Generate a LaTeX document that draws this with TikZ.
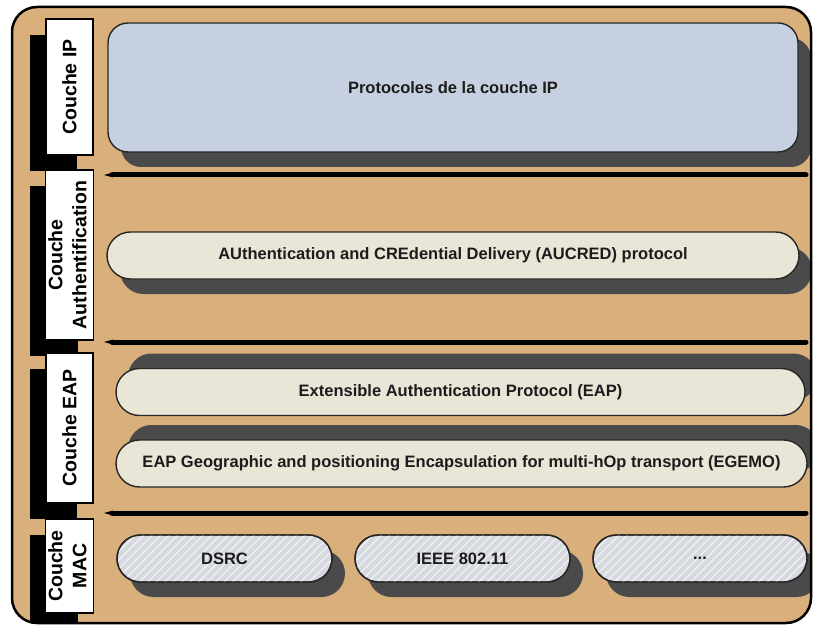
\documentclass[tikz,border=0pt]{standalone}
\usepackage{fontspec}
\setsansfont{Liberation Sans}
\usetikzlibrary{shapes.misc,shadows,patterns.meta}
\definecolor{framecol}{HTML}{D9B07B}
\definecolor{ipcol}{HTML}{C6D0E0}
\definecolor{creamcol}{HTML}{E9E6D7}
\definecolor{maccol}{HTML}{D6D9DF}
\definecolor{shadecol}{HTML}{4A4A4A}
\definecolor{textcol}{HTML}{1C1C1C}

\begin{document}
\begin{tikzpicture}[x=1pt, y=-1pt,
  every node/.style={font=\sffamily\bfseries\fontsize{16.5}{19}\selectfont, text=textcol, inner sep=0pt},
  labelbox/.style={draw=black, line width=1.5pt, fill=white, minimum width=47pt,
    font=\sffamily\bfseries\fontsize{19.5}{24}\selectfont, text=black,
    drop shadow={shadow xshift=-16pt, shadow yshift=-16pt, fill=black, opacity=1}},
  shadedown/.style={drop shadow={shadow xshift=13pt, shadow yshift=-15pt, fill=shadecol, opacity=1}},
  shadeup/.style={drop shadow={shadow xshift=12pt, shadow yshift=15pt, fill=shadecol, opacity=1}},
  ipbox/.style={draw=black!85, line width=1.4pt, fill=ipcol, rounded corners=20pt, shadedown},
  pillbox/.style={rounded rectangle, draw=black!85, line width=1.4pt, fill=creamcol, minimum height=47pt},
  macbox/.style={pillbox, fill=maccol, shadedown, minimum width=215pt,
    postaction={pattern={Lines[angle=45,distance=6pt,line width=1.1pt]}, pattern color=white!75!maccol},
    postaction={draw=black!85, line width=1.4pt}},
  sepline/.style={line width=5pt, line cap=round}]
  \useasboundingbox (0,0) rectangle (813,628);
  % outer frame
  \fill[framecol, rounded corners=25pt] (12,7) rectangle (811,623);
  \begin{scope}
    \clip[rounded corners=25pt] (12,7) rectangle (811,623);
    % layer names
    \node[labelbox, minimum height=136pt] (lip) at (69.5,87) {\rotatebox{90}{Couche IP}};
    \node[labelbox, minimum height=170pt] (lauth) at (69.5,255) {\rotatebox{90}{\begin{tabular}{@{}c@{}}Couche\\Authentification\end{tabular}}};
    \node[labelbox, minimum height=150pt] (leap) at (69.5,428) {\rotatebox{90}{Couche EAP}};
    \node[labelbox, minimum height=94pt] (lmac) at (69.5,566) {\rotatebox{90}{\begin{tabular}{@{}c@{}}Couche\\MAC\end{tabular}}};
    % protocols
    \node[ipbox, minimum width=690pt, minimum height=129pt] (ip) at (453,87.5) {Protocoles de la couche IP};
    \node[pillbox, shadedown, minimum width=692pt] (aucred) at (453,255.5) {AUthentication and CREdential Delivery (AUCRED) protocol};
    \node[pillbox, shadeup, minimum width=689pt] (eap) at (460.5,392) {Extensible Authentication Protocol (EAP)};
    \node[pillbox, shadeup, minimum width=691pt] (egemo) at (461.5,463.5) {EAP Geographic and positioning Encapsulation for multi-hOp transport (EGEMO)};
    \node[macbox] (dsrc) at (224.5,558.5) {DSRC};
    \node[macbox] (ieee) at (462.5,558.5) {IEEE 802.11};
    \node[macbox, minimum width=214pt] (other) at (700,558.5) {...};
    % separators
    \foreach \y in {175,342,513} {
      \fill (104,\y) -- (113,\y-2.5) -- (113,\y+2.5) -- cycle;
      \draw[sepline] (112,\y) -- (806,\y);
    }
  \end{scope}
  \draw[line width=2.5pt, rounded corners=25pt] (12,7) rectangle (811,623);
\end{tikzpicture}
\end{document}
